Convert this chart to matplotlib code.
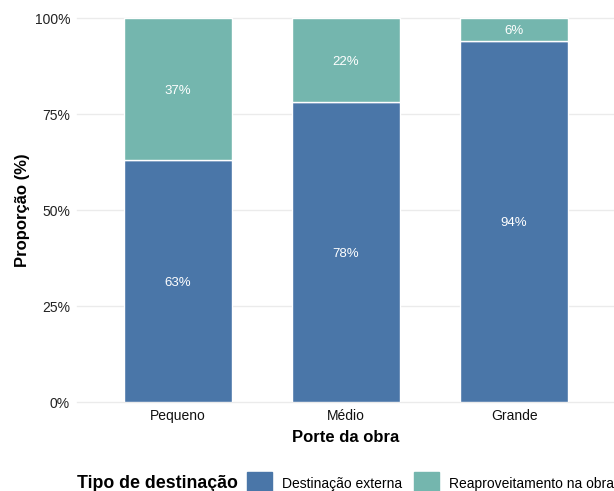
import matplotlib.pyplot as plt
from matplotlib.patches import Rectangle

plt.rcParams['font.family'] = ['Liberation Sans', 'DejaVu Sans']

portes = ['Pequeno', 'Médio', 'Grande']
destinacoes = ['Destinação externa', 'Reaproveitamento na obra']
externa = [63, 78, 94]
reaproveitamento = [37, 22, 6]
yticks = [0, 25, 50, 75, 100]
cores = ['#4A76A8', '#74B6AE']

W, H = 614, 491
fig = plt.figure(figsize=(W / 100, H / 100), dpi=100)
ax = fig.add_axes([77 / W, 89 / H, 538 / W, 384 / H])

x = [1, 2, 3]
ax.bar(x, externa, width=0.645, color=cores[0], edgecolor='white', linewidth=1, zorder=2)
ax.bar(x, reaproveitamento, width=0.645, bottom=externa, color=cores[1],
       edgecolor='white', linewidth=1, zorder=2)

for i in range(len(portes)):
    ax.text(x[i], externa[i] / 2, f'{externa[i]}%', ha='center', va='center_baseline',
            color='white', fontsize=9.5, zorder=3)
    ax.text(x[i], externa[i] + reaproveitamento[i] / 2, f'{reaproveitamento[i]}%',
            ha='center', va='center_baseline', color='white', fontsize=9.5, zorder=3)

ax.set_xlim(0.4, 3.6)
ax.set_ylim(0, 100)
ax.set_yticks(yticks)
ax.set_yticklabels([f'{v}%' for v in yticks])
ax.set_xticks(x)
ax.set_xticklabels(portes)
for v in yticks:
    ax.axhline(v, color='#EBEBEB', linewidth=1, zorder=0, clip_on=False)
for s in ax.spines.values():
    s.set_visible(False)
ax.tick_params(length=0, labelsize=10, colors='#222222', pad=5)
ax.tick_params(axis='x', labelcolor='#111111')

ax.set_xlabel('Porte da obra', fontsize=12, fontweight='bold', labelpad=5)
ax.set_ylabel('Proporção (%)', fontsize=12, fontweight='bold', labelpad=3)

# legenda na parte de baixo
fig.text(77 / W, 1 - 484 / H, 'Tipo de destinação', fontsize=12.8, fontweight='bold',
         va='center', ha='left')
legend_x = [247, 414]
for i, nome in enumerate(destinacoes):
    fig.patches.append(Rectangle((legend_x[i] / W, 1 - 496 / H), 25 / W, 24 / H,
                                 transform=fig.transFigure, color=cores[i]))
    fig.text((legend_x[i] + 35) / W, 1 - 484 / H, nome, fontsize=10, va='center', ha='left')

fig.savefig('out.png', dpi=100)
